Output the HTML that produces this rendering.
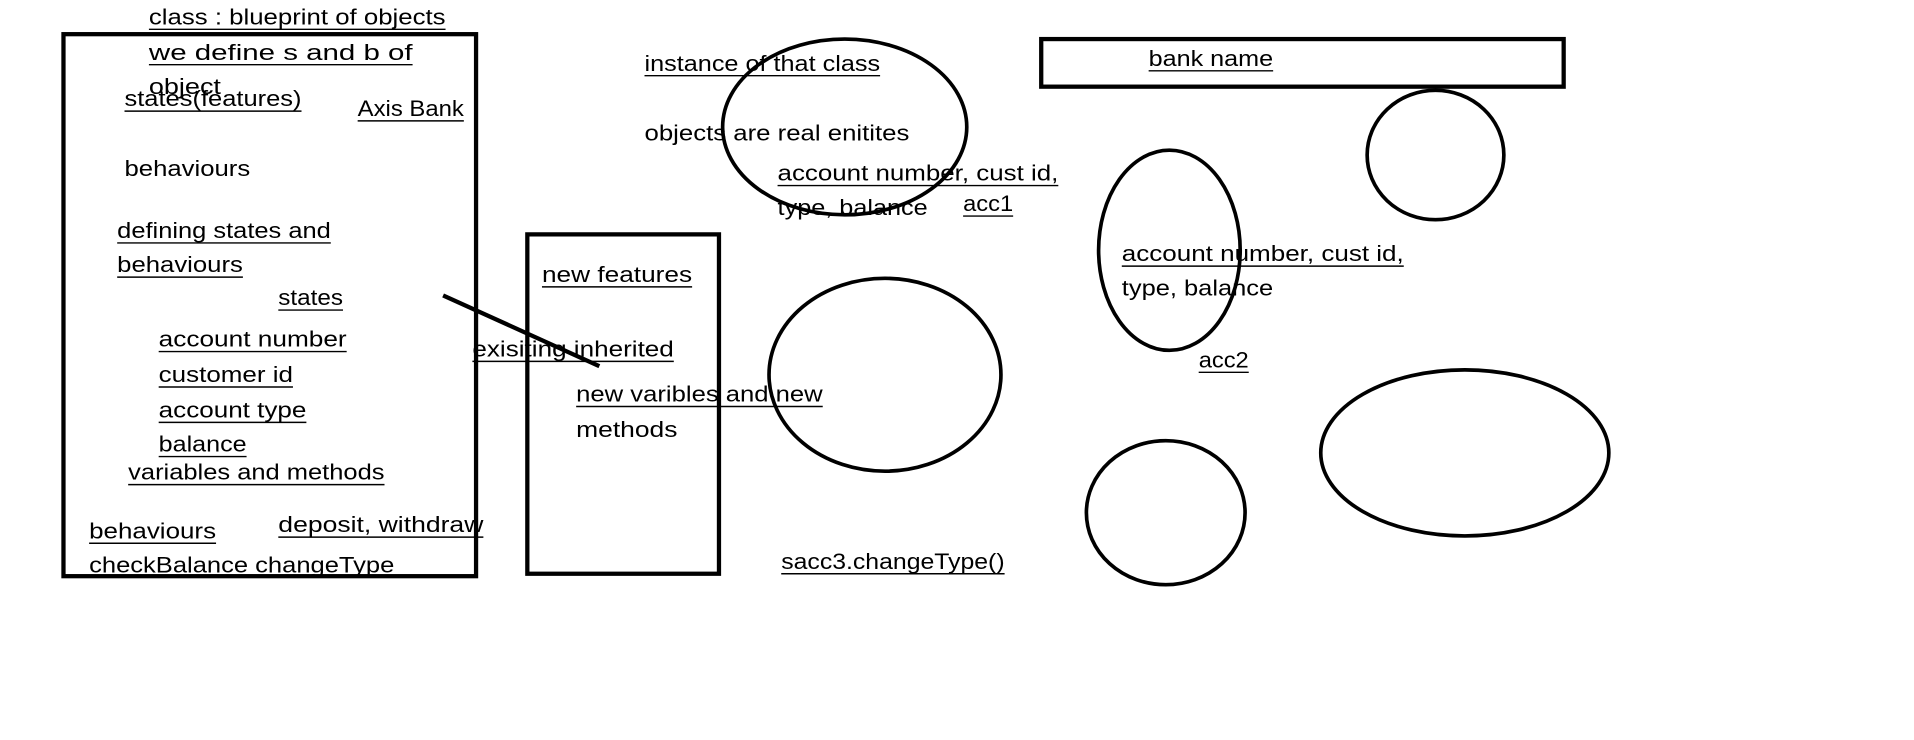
<!DOCTYPE html>
<html><head><meta charset="utf-8"><style>
html,body{margin:0;padding:0;background:#fff;width:1914px;height:740px;overflow:hidden}
svg{display:block}
text{font-family:"Liberation Sans",sans-serif;font-size:18.5px;fill:#000}
</style></head><body>
<svg width="1914" height="740" viewBox="0 0 1568 606.2" preserveAspectRatio="none" xmlns="http://www.w3.org/2000/svg">
<g fill="none" stroke="#000" stroke-width="3.5">
<rect x="52" y="28" width="338" height="444"/>
<rect x="432" y="192" width="157" height="278"/>
<rect x="853" y="32" width="428" height="39"/>
<line x1="363" y1="242" x2="491" y2="300"/>
<ellipse cx="692" cy="104" rx="100" ry="72" stroke-width="3"/>
<ellipse cx="725" cy="307" rx="95" ry="79" stroke-width="3"/>
<ellipse cx="958" cy="205" rx="58" ry="82" stroke-width="3"/>
<ellipse cx="1176" cy="127" rx="56" ry="53" stroke-width="3"/>
<ellipse cx="955" cy="420" rx="65" ry="59" stroke-width="3"/>
<ellipse cx="1200" cy="371" rx="118" ry="68" stroke-width="3"/>
</g>
<g stroke="#000" stroke-width="1.2">
<line x1="122" y1="24" x2="365" y2="24"/>
<line x1="122" y1="53" x2="338" y2="53"/>
<line x1="102" y1="91" x2="247" y2="91"/>
<line x1="293" y1="99" x2="380" y2="99"/>
<line x1="96" y1="199" x2="271" y2="199"/>
<line x1="96" y1="227" x2="199" y2="227"/>
<line x1="228" y1="254" x2="281" y2="254"/>
<line x1="130" y1="288" x2="284" y2="288"/>
<line x1="130" y1="317" x2="240" y2="317"/>
<line x1="130" y1="346" x2="251" y2="346"/>
<line x1="130" y1="374" x2="202" y2="374"/>
<line x1="105" y1="397" x2="315" y2="397"/>
<line x1="73" y1="445" x2="177" y2="445"/>
<line x1="228" y1="440" x2="396" y2="440"/>
<line x1="528" y1="62" x2="721" y2="62"/>
<line x1="637" y1="152" x2="867" y2="152"/>
<line x1="789" y1="177" x2="830" y2="177"/>
<line x1="444" y1="235" x2="567" y2="235"/>
<line x1="387" y1="296" x2="552" y2="296"/>
<line x1="472" y1="333" x2="674" y2="333"/>
<line x1="640" y1="470" x2="823" y2="470"/>
<line x1="941" y1="58" x2="1043" y2="58"/>
<line x1="919" y1="218" x2="1150" y2="218"/>
<line x1="982" y1="305" x2="1023" y2="305"/>
</g>
<g>
<text x="122" y="20" textLength="243" lengthAdjust="spacingAndGlyphs">class : blueprint of objects</text>
<text x="122" y="49" textLength="216" lengthAdjust="spacingAndGlyphs">we define s and b of</text>
<text x="122" y="77" textLength="59" lengthAdjust="spacingAndGlyphs">object</text>
<text x="102" y="87" textLength="145" lengthAdjust="spacingAndGlyphs">states(features)</text>
<text x="293" y="95" textLength="87" lengthAdjust="spacingAndGlyphs">Axis Bank</text>
<text x="102" y="144" textLength="103" lengthAdjust="spacingAndGlyphs">behaviours</text>
<text x="96" y="195" textLength="175" lengthAdjust="spacingAndGlyphs">defining states and</text>
<text x="96" y="223" textLength="103" lengthAdjust="spacingAndGlyphs">behaviours</text>
<text x="228" y="250" textLength="53" lengthAdjust="spacingAndGlyphs">states</text>
<text x="130" y="284" textLength="154" lengthAdjust="spacingAndGlyphs">account number</text>
<text x="130" y="313" textLength="110" lengthAdjust="spacingAndGlyphs">customer id</text>
<text x="130" y="342" textLength="121" lengthAdjust="spacingAndGlyphs">account type</text>
<text x="130" y="370" textLength="72" lengthAdjust="spacingAndGlyphs">balance</text>
<text x="105" y="393" textLength="210" lengthAdjust="spacingAndGlyphs">variables and methods</text>
<text x="73" y="441" textLength="104" lengthAdjust="spacingAndGlyphs">behaviours</text>
<text x="228" y="436" textLength="168" lengthAdjust="spacingAndGlyphs">deposit, withdraw</text>
<text x="73" y="469" textLength="250" lengthAdjust="spacingAndGlyphs">checkBalance  changeType</text>
<text x="528" y="58" textLength="193" lengthAdjust="spacingAndGlyphs">instance of that class</text>
<text x="528" y="115" textLength="217" lengthAdjust="spacingAndGlyphs">objects are real enitites</text>
<text x="637" y="148" textLength="230" lengthAdjust="spacingAndGlyphs">account number, cust id,</text>
<text x="637" y="176" textLength="123" lengthAdjust="spacingAndGlyphs">type, balance</text>
<text x="789" y="173" textLength="41" lengthAdjust="spacingAndGlyphs">acc1</text>
<text x="444" y="231" textLength="123" lengthAdjust="spacingAndGlyphs">new features</text>
<text x="387" y="292" textLength="165" lengthAdjust="spacingAndGlyphs">exisiting inherited</text>
<text x="472" y="329" textLength="202" lengthAdjust="spacingAndGlyphs">new varibles and new</text>
<text x="472" y="358" textLength="83" lengthAdjust="spacingAndGlyphs">methods</text>
<text x="640" y="466" textLength="183" lengthAdjust="spacingAndGlyphs">sacc3.changeType()</text>
<text x="941" y="54" textLength="102" lengthAdjust="spacingAndGlyphs">bank name</text>
<text x="919" y="214" textLength="231" lengthAdjust="spacingAndGlyphs">account number, cust id,</text>
<text x="919" y="242" textLength="124" lengthAdjust="spacingAndGlyphs">type, balance</text>
<text x="982" y="301" textLength="41" lengthAdjust="spacingAndGlyphs">acc2</text>
</g>
</svg>
</body></html>
